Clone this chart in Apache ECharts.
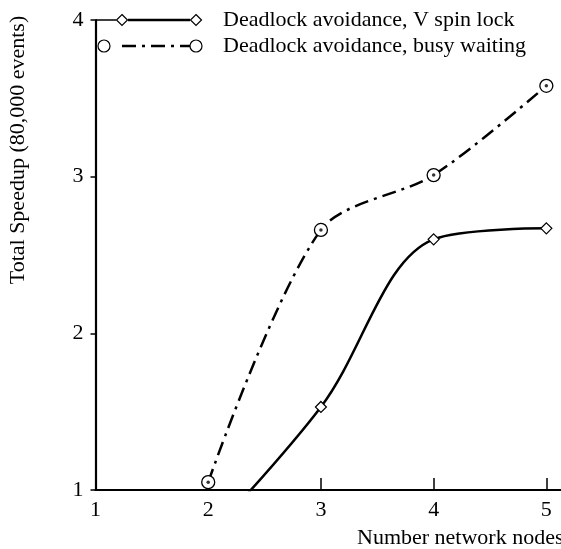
<!DOCTYPE html>
<html>
<head>
<meta charset="utf-8">
<script src="https://cdn.jsdelivr.net/npm/echarts@6/dist/echarts.min.js"></script>
<style>
  html, body { margin: 0; padding: 0; background: #fff; }
  #chart { width: 561px; height: 549px; }
</style>
</head>
<body>
<div id="chart"></div>
<script>
// values
const xTicks = [1, 2, 3, 4, 5]
const yTicks = [1, 2, 3, 4]
const spinLockX = [2, 3, 4, 5]
const spinLockY = [0.7, 1.53, 2.6, 2.67]
const busyWaitX = [2, 3, 4, 5]
const busyWaitY = [1.05, 2.66, 3.01, 3.58]
const seriesNames = ['Deadlock avoidance, V spin lock', 'Deadlock avoidance, busy waiting']

const font = 'Liberation Serif'
const txt = '22px "Liberation Serif"'
const pair = (xs, ys) => xs.map((x, i) => [x, ys[i]])

const chart = echarts.init(document.getElementById('chart'))

const option = {
  backgroundColor: '#fff',
  animation: false,
  textStyle: { fontFamily: font, color: '#000' },
  grid: { left: 95.5, right: 0, top: 20, bottom: 59 },
  xAxis: {
    type: 'value',
    min: 1, max: 5.13,
    axisLine: { lineStyle: { color: '#000', width: 2.2 } },
    axisTick: { inside: true, length: 12, customValues: xTicks, lineStyle: { color: '#000', width: 1.5 } },
    axisLabel: { customValues: xTicks, fontSize: 22, color: '#000', margin: 9, fontFamily: font },
    splitLine: { show: false }
  },
  yAxis: {
    type: 'value',
    min: 1, max: 4,
    axisLine: { show: true, lineStyle: { color: '#000', width: 2.2 } },
    axisTick: { show: true, length: 5, customValues: yTicks, lineStyle: { color: '#000', width: 1.5 } },
    axisLabel: { customValues: yTicks, fontSize: 22, color: '#000', margin: 12, fontFamily: font },
    splitLine: { show: false }
  },
  series: [
    {
      name: seriesNames[0],
      type: 'line',
      data: pair(spinLockX, spinLockY),
      smooth: 0.35,
      clip: true,
      symbol: 'diamond',
      symbolSize: 11,
      itemStyle: { color: '#fff', borderColor: '#000', borderWidth: 1.2 },
      lineStyle: { color: '#000', width: 2.5 },
      z: 3
    },
    {
      name: seriesNames[1],
      type: 'line',
      data: pair(busyWaitX, busyWaitY),
      smooth: 0.3,
      clip: true,
      symbol: 'circle',
      symbolSize: 13,
      itemStyle: { color: '#fff', borderColor: '#000', borderWidth: 1.3 },
      lineStyle: { color: '#000', width: 2.5, type: [14, 6, 3, 6] },
      z: 3
    },
    {
      // centre dots of the circle markers
      type: 'scatter',
      data: pair(busyWaitX, busyWaitY),
      symbol: 'circle',
      symbolSize: 3.5,
      itemStyle: { color: '#000' },
      silent: true,
      z: 6
    }
  ],
  graphic: [
    // legend, row 1
    { type: 'line', shape: { x1: 96, y1: 20, x2: 116, y2: 20 }, style: { stroke: '#000', lineWidth: 1.5 } },
    { type: 'line', shape: { x1: 128, y1: 20, x2: 190, y2: 20 }, style: { stroke: '#000', lineWidth: 2.5 } },
    { type: 'polygon', shape: { points: [[122, 14.5], [127.5, 20], [122, 25.5], [116.5, 20]] }, style: { fill: '#fff', stroke: '#000', lineWidth: 1.2 } },
    { type: 'polygon', shape: { points: [[196, 14.5], [201.5, 20], [196, 25.5], [190.5, 20]] }, style: { fill: '#fff', stroke: '#000', lineWidth: 1.2 } },
    { type: 'text', x: 223, y: 20, style: { text: seriesNames[0], font: txt, fill: '#000', verticalAlign: 'middle' } },
    // legend, row 2
    { type: 'line', shape: { x1: 116, y1: 46, x2: 190, y2: 46 }, style: { stroke: '#000', lineWidth: 2.5, lineDash: [14, 6, 3, 6], lineDashOffset: -6 } },
    { type: 'circle', shape: { cx: 104, cy: 46, r: 6 }, style: { fill: '#fff', stroke: '#000', lineWidth: 1.2 } },
    { type: 'circle', shape: { cx: 196, cy: 46, r: 6 }, style: { fill: '#fff', stroke: '#000', lineWidth: 1.2 } },
    { type: 'text', x: 223, y: 46, style: { text: seriesNames[1], font: txt, fill: '#000', verticalAlign: 'middle' } },
    // axis names
    { type: 'text', x: 18, y: 150, rotation: Math.PI / 2, style: { text: 'Total Speedup (80,000 events)', font: txt, fill: '#000', align: 'center', verticalAlign: 'middle' } },
    { type: 'text', x: 357, y: 538, style: { text: 'Number network nodes', font: txt, fill: '#000', verticalAlign: 'middle' } }
  ]
}

chart.setOption(option)
</script>
</body>
</html>
